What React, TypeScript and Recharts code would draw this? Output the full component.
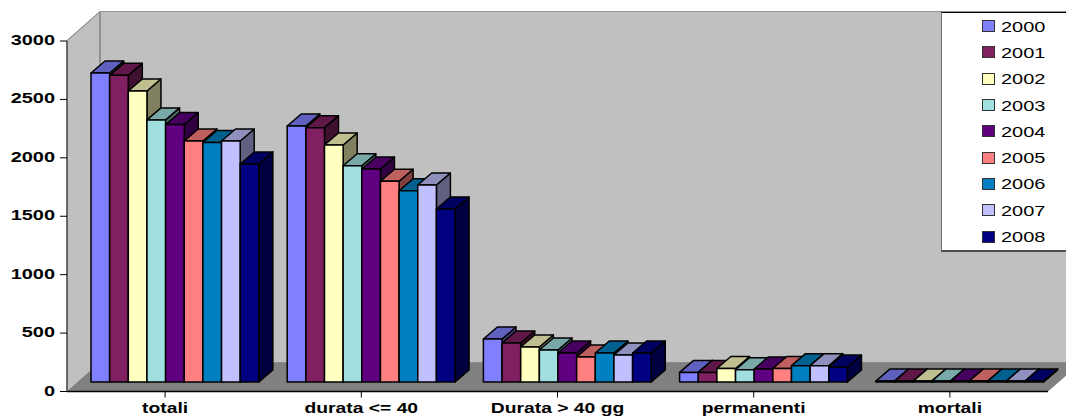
import { BarChart, Bar, XAxis, YAxis, CartesianGrid, Legend, usePlotArea } from 'recharts'

// Infortuni per anno: values
const categories = ['totali', 'durata <= 40', 'Durata > 40 gg', 'permanenti', 'mortali']
const years = ['2000', '2001', '2002', '2003', '2004', '2005', '2006', '2007', '2008']
const colors = ['#8080FF', '#802060', '#FFFFC0', '#A0E0E0', '#600080', '#FF8080', '#0080C0', '#C0C0FF', '#000080']
const yTicks = [0, 500, 1000, 1500, 2000, 2500, 3000]

const totali = [2645, 2625, 2491, 2243, 2203, 2063, 2050, 2063, 1866]
const durataBreve = [2191, 2177, 2029, 1851, 1823, 1718, 1637, 1686, 1481]
const durataLunga = [368, 334, 300, 274, 248, 214, 248, 231, 248]
const permanenti = [82, 82, 116, 105, 111, 116, 140, 140, 128]
const mortali = [8, 8, 8, 8, 8, 8, 8, 8, 8]

const rows = [totali, durataBreve, durataLunga, permanenti, mortali]
const data = categories.map((name, c) => {
  const row: Record<string, string | number> = { name }
  years.forEach((y, i) => {
    row[y] = rows[c][i]
  })
  return row
})

// perspective offsets of the box and of each column
const WALL_DX = 33
const WALL_DY = 29
const BAR_SHIFT_X = 10
const BAR_SHIFT_Y = 9.5
const BAR_DX = 14
const BAR_DY = 12
const TEXT_STRETCH = 1.33

function shade(hex: string, f: number) {
  const n = parseInt(hex.slice(1), 16)
  const ch = (v: number) => Math.round(v * f)
  return `rgb(${ch((n >> 16) & 255)},${ch((n >> 8) & 255)},${ch(n & 255)})`
}

function Walls() {
  const plot = usePlotArea()
  if (!plot) return null
  const { x, y, width, height } = plot
  const b = y + height
  const r = x + width
  return (
    <g>
      <rect x={x + WALL_DX} y={y - WALL_DY} width={width} height={height} fill="#C0C0C0" />
      <polygon
        points={`${x},${y} ${x + WALL_DX},${y - WALL_DY} ${x + WALL_DX},${b - WALL_DY} ${x},${b}`}
        fill="#C0C0C0"
      />
      <polygon
        points={`${x},${b} ${x + WALL_DX},${b - WALL_DY} ${r + WALL_DX},${b - WALL_DY} ${r},${b}`}
        fill="#808080"
      />
      <line x1={x + WALL_DX} y1={y - WALL_DY} x2={x + WALL_DX} y2={b - WALL_DY} stroke="#808080" strokeWidth={1.5} />
    </g>
  )
}

function wallLine(props: any) {
  const { x1, y1, x2, index } = props
  const edge = y1 < 45 || y1 > 385
  return (
    <path
      key={index}
      d={`M${x1} ${y1}L${x1 + WALL_DX} ${y1 - WALL_DY}L${x2 + WALL_DX} ${y1 - WALL_DY}`}
      fill="none"
      stroke={edge ? '#707070' : '#000'}
      strokeWidth={edge ? 1.5 : 1}
    />
  )
}

function Column(props: any) {
  const { x, y, width, height, fill } = props
  const l = x + BAR_SHIFT_X
  const t = y - BAR_SHIFT_Y
  const r = l + width
  const b = t + height
  return (
    <g stroke="#000" strokeWidth={1.5} strokeLinejoin="round">
      <polygon
        points={`${r},${t} ${r + BAR_DX},${t - BAR_DY} ${r + BAR_DX},${b - BAR_DY} ${r},${b}`}
        fill={shade(fill, 0.5)}
      />
      <polygon
        points={`${l},${t} ${l + BAR_DX},${t - BAR_DY} ${r + BAR_DX},${t - BAR_DY} ${r},${t}`}
        fill={shade(fill, 0.75)}
      />
      <rect x={l} y={t} width={width} height={height} fill={fill} />
    </g>
  )
}

function YTick({ x, y, payload }: any) {
  return (
    <text
      transform={`translate(${x},${y + 4}) scale(${TEXT_STRETCH},1)`}
      textAnchor="end"
      fontFamily="Liberation Sans"
      fontWeight="bold"
      fontSize={15}
      fill="#000"
    >
      {payload.value}
    </text>
  )
}

function XTick({ x, y, payload }: any) {
  return (
    <text
      transform={`translate(${x},${y + 15}) scale(${TEXT_STRETCH},1)`}
      textAnchor="middle"
      fontFamily="Liberation Sans"
      fontWeight="bold"
      fontSize={14.5}
      fill="#000"
    >
      {payload.value}
    </text>
  )
}

function LegendBox({ payload }: any) {
  return (
    <div
      style={{
        boxSizing: 'border-box',
        width: 130,
        height: 240,
        background: '#fff',
        borderTop: '1px solid #000',
        borderLeft: '1.5px solid #707070',
        borderBottom: '2px solid #505050',
      }}
    >
      {(payload ?? []).map((item: any) => (
        <div key={item.value} style={{ display: 'flex', alignItems: 'center', height: 26.3, paddingLeft: 40 }}>
          <span
            style={{
              boxSizing: 'border-box',
              width: 13,
              height: 12,
              background: item.color,
              border: '1.5px solid #333',
            }}
          />
          <span
            style={{
              marginLeft: 6,
              fontFamily: 'Liberation Sans',
              fontSize: 15,
              color: '#000',
              transform: `scaleX(${TEXT_STRETCH})`,
              transformOrigin: 'left center',
            }}
          >
            {item.value}
          </span>
        </div>
      ))}
    </div>
  )
}

export default function App() {
  return (
    <div style={{ position: 'absolute', left: 0, top: 0, width: 1066, height: 417, overflow: 'hidden' }}>
      <BarChart
        width={1066}
        height={417}
        data={data}
        margin={{ top: 41, right: 18, bottom: 0, left: 0 }}
        barSize={18.65}
        barGap={0}
      >
        <Walls />
        <CartesianGrid vertical={false} horizontal={wallLine} />
        <XAxis
          dataKey="name"
          height={25.5}
          interval={0}
          tick={<XTick />}
          tickSize={6}
          tickMargin={0}
          axisLine={{ stroke: '#000', strokeWidth: 1.5 }}
          tickLine={{ stroke: '#000' }}
        />
        <YAxis
          width={67}
          domain={[0, 3000]}
          ticks={yTicks}
          interval={0}
          tick={<YTick />}
          tickSize={7}
          tickMargin={5}
          axisLine={{ stroke: '#404040', strokeWidth: 1.5 }}
          tickLine={{ stroke: '#000' }}
        />
        <Legend
          layout="vertical"
          align="center"
          verticalAlign="middle"
          wrapperStyle={{ left: 941, top: 12, width: 130 }}
          content={<LegendBox />}
        />
        {years.map((y, i) => (
          <Bar key={y} dataKey={y} fill={colors[i]} shape={<Column />} isAnimationActive={false} />
        ))}
      </BarChart>
    </div>
  )
}
